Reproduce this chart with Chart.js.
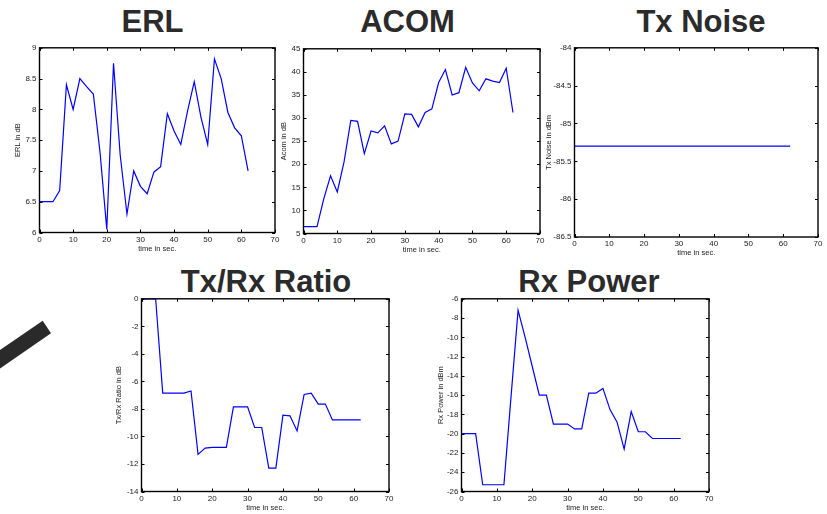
<!DOCTYPE html>
<html>
<head>
<meta charset="utf-8">
<script src="https://cdn.jsdelivr.net/npm/chart.js@4.4.1/dist/chart.umd.min.js"></script>
<style>
    body { margin: 0; background: #fff; width: 827px; height: 514px; position: relative; overflow: hidden;
           font-family: "Liberation Sans", Arial, sans-serif; }
    .title { position: absolute; font-weight: bold; font-size: 31px; color: #2b2b2b; line-height: 1;
             transform: translateX(-50%); white-space: nowrap; }
    canvas { position: absolute; }
    svg { position: absolute; left: 0; top: 0; }
</style>
</head>
<body>
<svg width="827" height="514"><polygon points="42.7,320.7 51,333.3 -2,369.9 -2,351.5" fill="#2a2a2a"/></svg>

<div class="title" style="left:152.5px;top:6px">ERL</div>
<div class="title" style="left:407.5px;top:6px">ACOM</div>
<div class="title" style="left:701px;top:6px">Tx Noise</div>
<div class="title" style="left:266px;top:265.5px">Tx/Rx Ratio</div>
<div class="title" style="left:589px;top:265.5px">Rx Power</div>

<canvas id="erlChart"></canvas>
<canvas id="acomChart"></canvas>
<canvas id="noiseChart"></canvas>
<canvas id="ratioChart"></canvas>
<canvas id="powerChart"></canvas>

<script>
// sample times, every 2 sec
const timeSec = [0, 2, 4, 6, 8, 10, 12, 14, 16, 18, 20, 22, 24, 26, 28, 30,
                 32, 34, 36, 38, 40, 42, 44, 46, 48, 50, 52, 54, 56, 58, 60, 62];

const erlValues = [6.5, 6.5, 6.5, 6.68, 8.4, 8.0, 8.5, 8.37, 8.25, 7.3, 6.05, 8.75, 7.25, 6.3, 7.0, 6.75,
                   6.63, 6.98, 7.07, 7.93, 7.65, 7.43, 7.97, 8.45, 7.87, 7.43, 8.82, 8.5, 7.95, 7.7, 7.57, 7.0];

const acomValues = [6.5, 6.5, 6.5, 12.5, 17.5, 14.0, 20.5, 29.5, 29.3, 22.3, 27.2, 26.8, 28.3, 24.4, 25.0, 30.9,
                    30.8, 28.1, 31.2, 32.0, 37.7, 40.5, 35.0, 35.5, 41.0, 37.6, 35.9, 38.5, 38.0, 37.7, 40.8, 31.2];

const txNoiseValues = [-85.3, -85.3, -85.3, -85.3, -85.3, -85.3, -85.3, -85.3, -85.3, -85.3, -85.3, -85.3, -85.3, -85.3, -85.3, -85.3,
                       -85.3, -85.3, -85.3, -85.3, -85.3, -85.3, -85.3, -85.3, -85.3, -85.3, -85.3, -85.3, -85.3, -85.3, -85.3, -85.3];

const txRxRatioValues = [0, 0, 0, -6.85, -6.85, -6.85, -6.85, -6.7, -11.3, -10.85, -10.8, -10.8, -10.8, -7.85, -7.85, -7.85,
                         -9.35, -9.35, -12.3, -12.3, -8.45, -8.5, -9.6, -6.95, -6.85, -7.65, -7.65, -8.8, -8.8, -8.8, -8.8, -8.8];

const rxPowerValues = [-20, -20, -20, -25.3, -25.3, -25.3, -25.3, -16.2, -7.2, -10, -13, -16, -16, -19, -19, -19,
                       -19.5, -19.5, -15.8, -15.8, -15.3, -17.5, -18.8, -21.6, -17.7, -19.8, -19.8, -20.5, -20.5, -20.5, -20.5, -20.5];

const FONT = '"Liberation Sans", Arial, sans-serif';

// MATLAB-ish box with inward tick marks on every side
const boxTicks = {
    id: 'boxTicks',
    afterDraw(chart) {
        const { ctx, chartArea: a, scales: { x, y } } = chart;
        ctx.save();
        ctx.strokeStyle = '#000';
        ctx.lineWidth = 1;
        ctx.beginPath();
        x.ticks.forEach(t => {
            const px = Math.round(x.getPixelForValue(t.value)) + 0.5;
            ctx.moveTo(px, a.bottom); ctx.lineTo(px, a.bottom - 3);
            ctx.moveTo(px, a.top); ctx.lineTo(px, a.top + 3);
        });
        y.ticks.forEach(t => {
            const py = Math.round(y.getPixelForValue(t.value)) + 0.5;
            ctx.moveTo(a.left, py); ctx.lineTo(a.left + 3, py);
            ctx.moveTo(a.right, py); ctx.lineTo(a.right - 3, py);
        });
        ctx.stroke();
        ctx.lineWidth = 1.4;
        ctx.strokeRect(a.left, a.top, a.right - a.left, a.bottom - a.top);
        ctx.restore();
    }
};

// plot box: L,T,R,B ; yTitleX / xTitleY = centres of the axis titles
function makeChart(id, values, yLabel, yMin, yMax, yStep, box) {
    const left = box.yTitleX - 4.5;
    const top = box.T - 6;
    const right = box.R + 8;
    const bottom = box.xTitleY + 4.5;
    const cv = document.getElementById(id);
    cv.width = right - left;
    cv.height = bottom - top;
    cv.style.left = left + 'px';
    cv.style.top = top + 'px';
    const yWidth = box.L - left;
    const xHeight = bottom - box.B;

    return new Chart(cv.getContext('2d'), {
        type: 'line',
        data: {
            datasets: [{
                data: timeSec.map((t, i) => ({ x: t, y: values[i] })),
                borderColor: '#0000ff',
                borderWidth: 1.2,
                pointRadius: 0,
                tension: 0,
                fill: false
            }]
        },
        options: {
            responsive: false,
            animation: false,
            devicePixelRatio: 1,
            layout: { padding: { top: 6, right: 8, left: 0, bottom: 0 } },
            plugins: { legend: { display: false }, tooltip: { enabled: false } },
            scales: {
                x: {
                    type: 'linear', min: 0, max: 70,
                    grid: { display: false, drawTicks: false },
                    border: { display: false },
                    ticks: { stepSize: 10, padding: 2, color: '#222', font: { family: FONT, size: 8 }, maxRotation: 0 },
                    title: { display: true, text: 'time in sec.', color: '#222', padding: 0, font: { family: FONT, size: 7.5 } },
                    afterFit(s) { s.height = xHeight; }
                },
                y: {
                    type: 'linear', min: yMin, max: yMax,
                    grid: { display: false, drawTicks: false },
                    border: { display: false },
                    ticks: { stepSize: yStep, padding: 3, color: '#222', font: { family: FONT, size: 8 },
                             callback: v => String(v) },
                    title: { display: true, text: yLabel, color: '#222', padding: 0, font: { family: FONT, size: 7.5 } },
                    afterFit(s) { s.width = yWidth; }
                }
            }
        },
        plugins: [boxTicks]
    });
}

makeChart('erlChart', erlValues, 'ERL in dB', 6, 9, 0.5,
    { L: 39, T: 46, R: 275, B: 233, yTitleX: 17, xTitleY: 249 });
makeChart('acomChart', acomValues, 'Acom in dB', 5, 45, 5,
    { L: 303, T: 46.5, R: 540, B: 233, yTitleX: 283, xTitleY: 249 });
makeChart('noiseChart', txNoiseValues, 'Tx Noise in dBm', -86.5, -84, 0.5,
    { L: 574, T: 46, R: 818, B: 237, yTitleX: 548, xTitleY: 252.5 });
makeChart('ratioChart', txRxRatioValues, 'Tx/Rx Ratio in dB', -14, 0, 2,
    { L: 141, T: 297, R: 389, B: 492, yTitleX: 118, xTitleY: 508 });
makeChart('powerChart', rxPowerValues, 'Rx Power in dBm', -26, -6, 2,
    { L: 461, T: 297, R: 709, B: 492, yTitleX: 440, xTitleY: 508 });
</script>
</body>
</html>
